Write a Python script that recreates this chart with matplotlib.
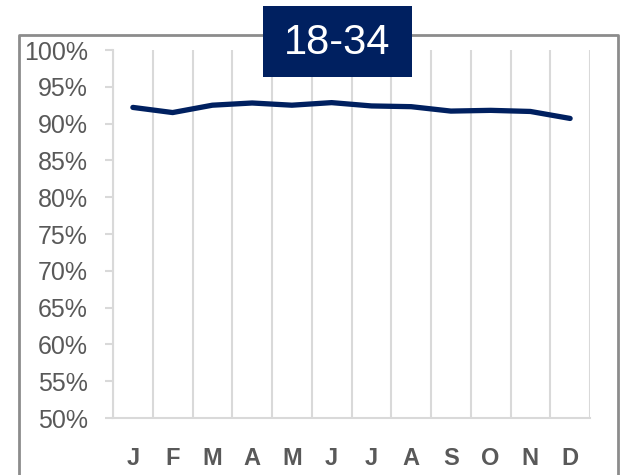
import numpy as np
import matplotlib
matplotlib.use("Agg")
import matplotlib.pyplot as plt
from matplotlib.patches import Rectangle
from matplotlib.ticker import FuncFormatter

# data
months = ["J", "F", "M", "A", "M", "J", "J", "A", "S", "O", "N", "D"]
share = [92.2, 91.5, 92.5, 92.8, 92.5, 92.85, 92.4, 92.3, 91.7, 91.8, 91.65, 90.7]
yticks = [50, 55, 60, 65, 70, 75, 80, 85, 90, 95, 100]
title = "18-34"

navy = "#002060"
grey_txt = "#595959"
grid_col = "#d9d9d9"

plt.rcParams["font.family"] = ["Liberation Sans", "DejaVu Sans"]

fig = plt.figure(figsize=(6.24, 4.75), dpi=100)
ax = fig.add_axes([113 / 624, 1 - 418 / 475, (590 - 113) / 624, (418 - 50) / 475])

x = np.arange(len(months))
ax.plot(x, share, color=navy, lw=3.8, solid_joinstyle="round", solid_capstyle="round", zorder=3)

ax.set_xlim(-0.5, len(months) - 0.5)
ax.set_ylim(50, 100)
ax.set_yticks(yticks)
ax.yaxis.set_major_formatter(FuncFormatter(lambda v, p: f"{v:.0f}%"))
ax.set_xticks(x)
ax.set_xticklabels(months, fontweight="bold")
ax.set_xticks(np.arange(-0.5, len(months), 1), minor=True)
ax.grid(which="minor", axis="x", color=grid_col, lw=1.5)
ax.tick_params(axis="x", which="both", length=0, pad=21, labelsize=17, labelcolor=grey_txt)
ax.tick_params(axis="y", length=6, width=1.5, color=grid_col, pad=12, labelsize=18, labelcolor=grey_txt)

for s in ["top", "right"]:
    ax.spines[s].set_visible(False)
for s in ["left", "bottom"]:
    ax.spines[s].set_color(grid_col)
    ax.spines[s].set_linewidth(1.5)

# outer frame, open at the bottom
fx0, fx1, fy1 = 19 / 624, 618 / 624, 1 - 35 / 475
fig.add_artist(plt.Line2D([fx0, fx0, fx1, fx1], [-0.01, fy1, fy1, -0.01],
                          color="#8c8c8c", lw=2, transform=fig.transFigure))

# title box
bx0, bx1 = 263 / 624, 412 / 624
by0, by1 = 1 - 77 / 475, 1 - 6 / 475
fig.add_artist(Rectangle((bx0, by0), bx1 - bx0, by1 - by0, transform=fig.transFigure,
                         facecolor=navy, edgecolor="none", zorder=5))
fig.text((bx0 + bx1) / 2, 1 - 43 / 475, title, color="white", fontsize=30,
         ha="center", va="center", zorder=6)

fig.savefig("out.png", dpi=100)
